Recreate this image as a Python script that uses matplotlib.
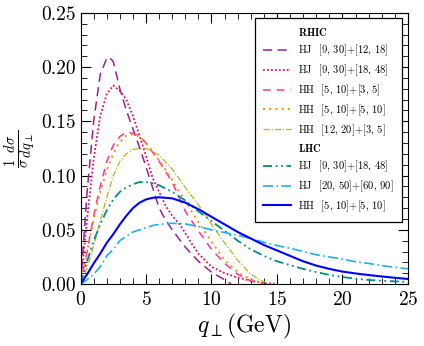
import matplotlib
matplotlib.use("Agg")
import matplotlib.pyplot as plt
from matplotlib.lines import Line2D
from matplotlib.ticker import MultipleLocator

plt.rcParams['mathtext.fontset'] = 'cm'
plt.rcParams['font.family'] = 'serif'
plt.rcParams['font.serif'] = ['cmr10', 'DejaVu Serif']
plt.rcParams['axes.formatter.use_mathtext'] = True

# RHIC curves
q_hj1 = [0, 0.5, 1, 1.5, 2, 2.2, 2.5, 3, 3.5, 4, 4.5, 5, 5.5, 6, 6.5, 7, 7.5, 8, 9, 10, 11, 11.5]
y_hj1 = [0, 0.085, 0.15, 0.193, 0.208, 0.209, 0.205, 0.18, 0.16, 0.143, 0.126, 0.108, 0.089, 0.07,
         0.059, 0.05, 0.042, 0.034, 0.021, 0.011, 0.004, 0]

q_hj2 = [0, 0.5, 1, 1.5, 2, 2.5, 3, 3.5, 4, 4.5, 5, 5.5, 6, 6.5, 7, 7.5, 8, 8.5, 9, 10, 11, 12, 13, 14, 15]
y_hj2 = [0, 0.06, 0.115, 0.155, 0.175, 0.183, 0.178, 0.17, 0.155, 0.137, 0.118, 0.098, 0.085, 0.072,
         0.063, 0.056, 0.047, 0.037, 0.028, 0.016, 0.01, 0.006, 0.003, 0.001, 0]

q_hh1 = [0, 0.5, 1, 1.5, 2, 2.5, 3, 3.5, 4, 4.5, 5, 6, 7, 8, 9, 10, 11, 12, 13, 14]
y_hh1 = [0, 0.03, 0.063, 0.09, 0.113, 0.128, 0.136, 0.14, 0.139, 0.136, 0.13, 0.113, 0.094, 0.067,
         0.049, 0.032, 0.019, 0.009, 0.003, 0]

q_hh2 = [0, 0.5, 1, 1.5, 2, 2.5, 3, 3.5, 4, 4.5, 5, 6, 7, 8, 9, 10, 11, 12, 13, 14]
y_hh2 = [0, 0.03, 0.06, 0.085, 0.105, 0.12, 0.131, 0.137, 0.138, 0.136, 0.13, 0.114, 0.096, 0.076,
         0.057, 0.039, 0.022, 0.011, 0.004, 0.001]

q_hh3 = [0, 0.5, 1, 1.5, 2, 2.5, 3, 3.5, 4, 4.5, 5, 6, 7, 8, 9, 10, 11, 12, 13, 14, 14.5]
y_hh3 = [0, 0.015, 0.035, 0.058, 0.08, 0.1, 0.113, 0.12, 0.124, 0.125, 0.125, 0.119, 0.106, 0.089,
         0.073, 0.055, 0.038, 0.022, 0.009, 0.002, 0]

# LHC curves
q_lhc = [0, 0.5, 1, 1.5, 2, 2.5, 3, 3.5, 4, 4.5, 5, 5.5, 6, 7, 8, 9, 10, 11, 12, 13, 14, 15, 16, 17,
         18, 19, 20, 21, 22, 23, 24, 25]
y_lhc_hj1 = [0, 0.021, 0.04, 0.055, 0.068, 0.078, 0.085, 0.089, 0.092, 0.094, 0.094, 0.093, 0.091, 0.085,
             0.077, 0.067, 0.058, 0.049, 0.04, 0.032, 0.026, 0.021, 0.0175, 0.014, 0.011, 0.0085,
             0.0065, 0.005, 0.0038, 0.003, 0.0025, 0.002]
y_lhc_hj2 = [0, 0.004, 0.009, 0.016, 0.026, 0.032, 0.04, 0.044, 0.048, 0.05, 0.052, 0.054, 0.055, 0.056,
             0.0555, 0.053, 0.05, 0.0475, 0.045, 0.042, 0.0385, 0.0355, 0.033, 0.03, 0.027, 0.025,
             0.023, 0.0206, 0.019, 0.017, 0.0155, 0.014]
y_lhc_hh = [0, 0.009, 0.019, 0.028, 0.038, 0.046, 0.055, 0.063, 0.07, 0.075, 0.078, 0.0795, 0.08, 0.079,
            0.075, 0.069, 0.062, 0.055, 0.048, 0.042, 0.036, 0.031, 0.026, 0.021, 0.017, 0.014,
            0.0115, 0.0098, 0.0083, 0.007, 0.0058, 0.0047]

fig = plt.figure(figsize=(4.24, 3.46), dpi=100)
ax = fig.add_axes([0.19, 0.179, 0.772, 0.784])

lw = 1.1
l1, = ax.plot(q_hj1, y_hj1, color='#9b1f9b', ls=(0, (6, 3.5)), lw=lw)
l2, = ax.plot(q_hj2, y_hj2, color='#e0115f', ls=(0, (1, 1.2)), lw=1.3)
l3, = ax.plot(q_hh1, y_hh1, color='#ff3399', ls=(0, (5, 4)), lw=lw)
l4, = ax.plot(q_hh2, y_hh2, color='#ff8c00', ls=(0, (1, 2.2)), lw=1.4)
l5, = ax.plot(q_hh3, y_hh3, color='#b5b22c', ls=(0, (5, 1.5, 1, 1.5)), lw=0.9)
l6, = ax.plot(q_lhc, y_lhc_hj1, color='#008b8b', ls=(0, (5, 2, 1, 2, 1, 2)), lw=1.3)
l7, = ax.plot(q_lhc, y_lhc_hj2, color='#1ab2e8', ls=(0, (6, 2, 1, 2)), lw=1.2)
l8, = ax.plot(q_lhc, y_lhc_hh, color='#0000ff', ls='-', lw=1.5)

blank = Line2D([], [], color='none')
handles = [blank, l1, l2, l3, l4, l5, blank, l6, l7, l8]
labels = [r'$\mathbf{RHIC}$',
          r'HJ  $[9,\,30]{+}[12,\,18]$',
          r'HJ  $[9,\,30]{+}[18,\,48]$',
          r'HH  $[5,\,10]{+}[3,\,5]$',
          r'HH  $[5,\,10]{+}[5,\,10]$',
          r'HH  $[12,\,20]{+}[3,\,5]$',
          r'$\mathbf{LHC}$',
          r'HJ  $[9,\,30]{+}[18,\,48]$',
          r'HJ  $[20,\,50]{+}[60,\,90]$',
          r'HH  $[5,\,10]{+}[5,\,10]$']
leg = ax.legend(handles, labels, loc='upper right', fontsize=7.6, frameon=True, fancybox=False,
                edgecolor='black', framealpha=1, handlelength=2.7, handletextpad=0.6,
                labelspacing=0.42, borderpad=0.8, borderaxespad=0,
                bbox_to_anchor=(0.982, 0.981))
leg.get_frame().set_linewidth(0.9)

ax.set_xlim(0, 25)
ax.set_ylim(0, 0.25)
ax.xaxis.set_major_locator(MultipleLocator(5))
ax.xaxis.set_minor_locator(MultipleLocator(1))
ax.yaxis.set_major_locator(MultipleLocator(0.05))
ax.yaxis.set_minor_locator(MultipleLocator(0.01))
ax.yaxis.set_major_formatter(plt.FuncFormatter(lambda v, p: f'{v:.2f}'))
ax.tick_params(which='both', direction='in', top=True, right=True, labelsize=14)
ax.tick_params(which='major', length=7, width=0.8)
ax.tick_params(which='minor', length=4, width=0.6)
ax.tick_params(axis='x', pad=5)

ax.set_xlabel(r'$q_{\perp}$(GeV)', fontsize=17, labelpad=2)
ax.set_ylabel(r'$\frac{1}{\sigma}\frac{d\sigma}{dq_{\perp}}$', fontsize=15, labelpad=2)

fig.savefig('out.png', dpi=100)
